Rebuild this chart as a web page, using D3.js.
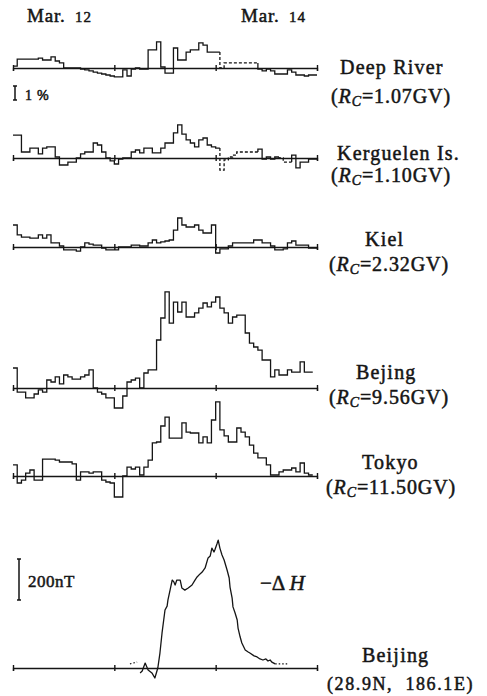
<!DOCTYPE html>
<html><head><meta charset="utf-8">
<script src="https://cdn.jsdelivr.net/npm/d3@7"></script>
<style>
body{margin:0;background:#fff}
svg{display:block}
text{font-family:"Liberation Serif","DejaVu Serif",serif;fill:#151515;stroke:#151515;stroke-width:0.5}
</style>
</head><body>
<svg id="c" width="487" height="696"></svg>
<script>
// ---------- data ----------
const dayLabels = ["Mar. 12", "Mar. 14"];
const dayTicks = [0, 24, 48, 72];           // hours
const stationNames = ["Deep River", "Kerguelen Is.", "Kiel", "Bejing", "Tokyo"];
const cutoffs = ["1.07", "1.10", "2.32", "9.56", "11.50"];

// hourly cosmic-ray variation (%), Mar 12 00h .. Mar 14 24h
const deepRiver = [0.14,0.64,0.64,0.64,0.64,0.64,0.71,0.57,0.57,0.79,0.5,0.36,0,0,0,0,-0.07,-0.14,-0.21,-0.29,-0.36,-0.43,-0.5,-0.57,-0.64,-0.64,-0.14,-0.57,-0.07,0,-0.07,-0.07,1.29,1.29,1.86,0.07,-0.36,-0.36,1.43,0.57,0.57,1.14,1.29,1.29,1.79,1.64,1.14,1.14,1.14,0,0.36,0.36,0.36,0.36,0.36,0.36,0.36,0.36,-0.07,-0.21,-0.07,-0.21,-0.43,-0.43,-0.43,-0.14,-0.29,-0.5,-0.5,-0.57,-0.5,-0.5];
const kerguelen = [1.64,1.64,0.43,0.43,0.71,0.71,0.29,0.71,0.79,0.79,0.07,-0.5,-0.5,-0.29,-0.29,0,0.29,0.43,0.43,1.07,0.93,0.43,0,-0.21,-0.43,-0.07,0,0,0.43,0.57,0.36,0.71,0.71,0.36,0.36,0.71,1.07,1.07,1.79,2.36,1.71,1.29,1.07,0.79,1.29,1.43,0.93,0.79,0.71,-0.86,-0.14,0.07,0.21,0.43,0.43,0.43,0.43,0.43,0.64,-0.07,0.07,-0.07,0.07,0,-0.29,-0.29,0.21,-0.71,-0.29,-0.29,-0.07,-0.07];
const kiel = [1.57,0.86,0.71,0.71,0.64,0.64,0.86,0.64,0.86,0.29,0.29,0.07,-0.21,-0.21,-0.21,-0.29,0,0.29,0.21,0.14,0.14,-0.07,-0.21,-0.21,-0.21,0,0,0,0.14,0.14,0.07,0.07,0.29,0.5,0.29,0.36,0.43,0.5,1.21,2.07,1.57,1.43,1.43,1.57,1.21,1.0,1.0,1.57,-0.43,-0.14,-0.14,0.07,0.29,0.29,0.29,0.29,0.29,0.5,0.5,0.29,0.29,0.07,-0.21,-0.21,-0.14,0.29,0.43,0.14,0.14,0.14,-0.07,-0.07];
const beijingCR = [1.43,-0.29,-0.29,-0.71,-0.71,-0.43,-0.14,-0.29,0.57,0.43,0.79,0.29,0.93,0.79,0.64,0.64,0.79,0.93,1.29,0,-0.29,-0.43,-0.71,-0.71,-1.43,-1.43,-0.57,0.43,0.57,0.71,0,1.07,1.29,1.29,3.43,5.0,6.86,4.64,6.14,5.43,6.14,5.07,5.07,5.36,5.71,6.07,5.79,6.14,6.5,5.71,5.36,4.64,5.07,5.21,5.21,3.93,3.21,2.93,2.71,2.0,2.0,0.79,1.29,0.93,0.93,1.29,1.14,1.14,1.86,1.14,1.14];
const tokyo = [0.79,-0.5,-0.29,0.21,0.43,-0.29,-0.29,1.21,1.21,1.21,1.14,1.0,1.0,1.0,0.86,-0.29,0.29,0.29,0.21,0.29,0.29,-0.29,-0.43,-0.5,-1.5,-1.5,0,0.64,0.5,0.64,0.07,0.64,1.14,2.36,2.43,3.57,4.21,2.71,2.71,2.71,3.79,3.14,3.07,3.07,2.36,2.79,2.36,4.0,5.29,3.29,2.86,2.43,2.43,3.43,3.14,2.79,2.21,1.64,1.29,1.29,0.79,0.07,0.07,0.29,0.43,0.43,0.57,0.29,0.93,0.21,0.07];
const dashedRanges = [[[49,58]], [[49,58],[63,66]], [], [], []];

// Beijing geomagnetic -ΔH (nT)
const dhHours  = [30.1,30.6,31.3,32.0,32.9,33.6,34.3,34.8,35.3,36.0,36.5,36.7,37.2,37.7,38.1,38.4,38.8,39.6,40.0,40.7,41.5,42.4,43.1,43.6,44.3,44.8,45.5,46.2,46.7,47.1,47.6,47.8,48.3,48.6,49.0,49.5,50.0,50.7,51.2,51.4,51.9,52.1,52.6,53.1,53.3,53.8,54.2,55.0,55.7,56.1,57.1,57.8,58.5,59.2,59.9,60.4,60.9,61.3,62.1];
const dhValues = [-24,-15,24,-10,-24,-49,0,73,171,283,302,332,380,429,420,405,429,429,390,380,390,405,429,444,459,468,488,537,546,585,566,576,605,624,585,551,527,478,439,395,341,298,268,234,195,151,122,88,78,73,59,54,44,39,44,34,39,29,20];
const dhDotLeftHours = [27.7, 29.4];
const dhDotLeftValues = [20, 29];
const dhDotRightHours = [62.1, 65.1];
const dhDotRightValues = [20, 20];

const series = [deepRiver, kerguelen, kiel, beijingCR, tokyo];

// ---------- layout ----------
const svg = d3.select("#c");
const ink = "#151515";
const x = d3.scaleLinear().domain([0, 72]).range([13, 317]);
const baselines = [68, 158, 247, 388, 476];
const pxPerPercent = 14;

function drawAxis(base) {
  const g = svg.append("g").attr("transform", `translate(0,${base})`)
    .call(d3.axisBottom(x).tickValues(dayTicks).tickSizeOuter(0).tickSize(3).tickFormat(""));
  g.select(".domain").attr("stroke", ink).attr("stroke-width", 1.3);
  g.selectAll(".tick line").attr("stroke", ink).attr("stroke-width", 1.4).attr("y1", -3).attr("y2", 3);
}

function stepSegment(vals, s, e) {
  const pts = [];
  if (s > 0) pts.push([s, vals[s - 1]]);
  for (let i = s; i < e; i++) pts.push([i, vals[i]]);
  pts.push([e, vals[e - 1]]);
  return pts;
}

series.forEach((vals, k) => {
  const base = baselines[k];
  const y = d3.scaleLinear().domain([0, 1]).range([base, base - pxPerPercent]);
  drawAxis(base);
  const line = d3.line().x(d => x(d[0])).y(d => y(d[1])).curve(d3.curveStepAfter);
  const n = vals.length;
  const cuts = [0];
  dashedRanges[k].forEach(r => { cuts.push(r[0]); cuts.push(r[1]); });
  cuts.push(n);
  for (let i = 0; i < cuts.length - 1; i++) {
    const s = cuts[i], e = cuts[i + 1];
    if (e <= s) continue;
    const dashed = i % 2 === 1;
    svg.append("path").attr("d", line(stepSegment(vals, s, e)))
      .attr("fill", "none").attr("stroke", ink).attr("stroke-width", 1.3)
      .attr("stroke-dasharray", dashed ? "3,2" : null);
  }
});

// -ΔH panel
const dhBase = 668;
const yH = d3.scaleLinear().domain([0, 200]).range([dhBase, dhBase - 41]);
drawAxis(dhBase);
const hLine = d3.line().x(d => x(d[0])).y(d => yH(d[1]));
svg.append("path").attr("d", hLine(d3.zip(dhHours, dhValues)))
  .attr("fill", "none").attr("stroke", ink).attr("stroke-width", 1.3).attr("stroke-linejoin", "round");
[[dhDotLeftHours, dhDotLeftValues], [dhDotRightHours, dhDotRightValues]].forEach(([h, v]) => {
  svg.append("path").attr("d", hLine(d3.zip(h, v)))
    .attr("fill", "none").attr("stroke", ink).attr("stroke-width", 1.2).attr("stroke-dasharray", "1.5,2");
});

// ---------- text ----------
dayLabels.forEach((lab, i) => {
  const parts = lab.split(" ");
  const t = svg.append("text").attr("x", [27, 241][i]).attr("y", 22)
    .attr("font-size", 19).attr("letter-spacing", 0.8);
  t.append("tspan").text(parts[0] + " ");
  t.append("tspan").attr("font-size", 15).attr("dx", 4).text(parts[1]);
});

const nameX = [340, 337, 365, 356, 362];
const nameY = [74, 160, 246, 379, 469];
const rcX = [331, 331, 329, 329, 326];
const rcY = [103, 182, 271, 404, 494];
stationNames.forEach((nm, i) => {
  svg.append("text").attr("x", nameX[i]).attr("y", nameY[i])
    .attr("font-size", 20).attr("letter-spacing", 1.2).text(nm);
  const t = svg.append("text").attr("x", rcX[i]).attr("y", rcY[i])
    .attr("font-size", 20).attr("letter-spacing", 0.9);
  t.append("tspan").text("(");
  t.append("tspan").attr("font-style", "italic").text("R");
  t.append("tspan").attr("font-style", "italic").attr("font-size", 14).attr("dy", 3).text("C");
  t.append("tspan").attr("dy", -3).text("=" + cutoffs[i] + "GV)");
});

// scale bars
function scaleBar(cx, y0, y1) {
  svg.append("path").attr("d", `M${cx-2},${y0}H${cx+2}M${cx},${y0}V${y1}M${cx-2},${y1}H${cx+2}`)
    .attr("stroke", ink).attr("stroke-width", 1.5).attr("fill", "none");
}
scaleBar(15, 86, 100);
const pct = svg.append("text").attr("x", 25).attr("y", 100).attr("font-size", 14);
pct.append("tspan").text("1");
pct.append("tspan").attr("dx", 5).text("%");
scaleBar(19, 559, 600);
svg.append("text").attr("x", 28).attr("y", 587).attr("font-size", 17).attr("letter-spacing", 0.5).text("200nT");

const dh = svg.append("text").attr("x", 260).attr("y", 590).attr("font-size", 21);
dh.append("tspan").text("−Δ ");
dh.append("tspan").attr("font-style", "italic").text("H");

svg.append("text").attr("x", 362).attr("y", 662).attr("font-size", 20).attr("letter-spacing", 1.2).text("Beijing");
svg.append("text").attr("x", 327).attr("y", 690).attr("font-size", 18).attr("letter-spacing", 1.6).attr("xml:space", "preserve").text("(28.9N,  186.1E)");
</script>
</body></html>
